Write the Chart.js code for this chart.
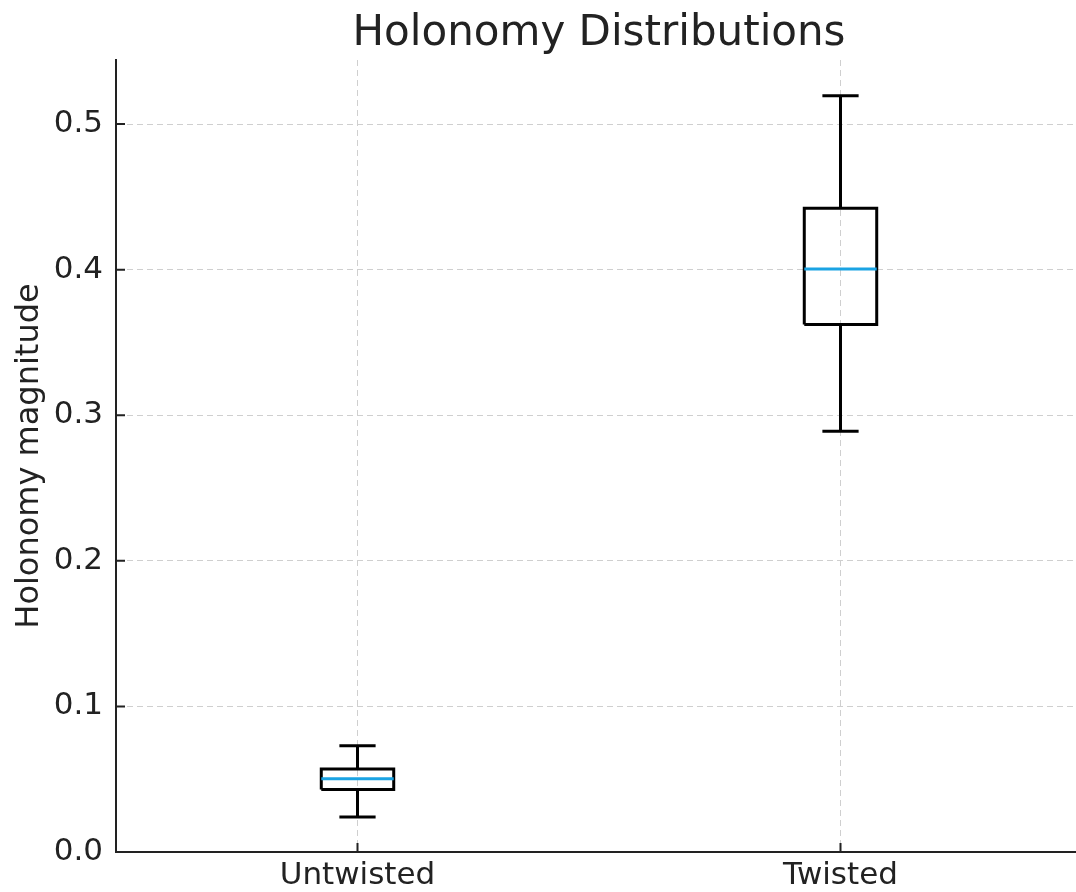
<!DOCTYPE html>
<html>
<head>
<meta charset="utf-8">
<script src="https://cdn.jsdelivr.net/npm/chart.js@4"></script>
<style>
    html, body { margin: 0; padding: 0; background: #fff; overflow: hidden; }
    #wrap { width: 1076px; height: 892px; overflow: hidden; }
</style>
</head>
<body>
<div id="wrap"><canvas id="holonomy" width="1082" height="892"></canvas></div>
<script>
const categories = ['Untwisted', 'Twisted'];
const positions = [1, 2];
const whiskerLow = [0.024, 0.289];
const quartile1 = [0.043, 0.3624];
const medians = [0.0503, 0.4004];
const quartile3 = [0.057, 0.4421];
const whiskerHigh = [0.073, 0.5194];
const yTicks = [0, 0.1, 0.2, 0.3, 0.4, 0.5];
const chartTitle = 'Holonomy Distributions';

const boxWidth = 0.15;
const font = 'DejaVu Sans';

function segment(points, color, order) {
    return {
        data: points,
        showLine: true,
        borderColor: color,
        borderWidth: 3,
        pointRadius: 0,
        fill: false,
        order,
    };
}

const datasets = [];
positions.forEach((x, i) => {
    const half = boxWidth / 2;
    const cap = boxWidth / 4;
    datasets.push(segment([{ x: x - half, y: medians[i] }, { x: x + half, y: medians[i] }], '#1aa3e3', 0));
    datasets.push(segment([
        { x: x - half, y: quartile1[i] },
        { x: x + half, y: quartile1[i] },
        { x: x + half, y: quartile3[i] },
        { x: x - half, y: quartile3[i] },
        { x: x - half, y: quartile1[i] },
    ], '#000', 1));
    datasets.push(segment([{ x, y: whiskerLow[i] }, { x, y: quartile1[i] }], '#000', 1));
    datasets.push(segment([{ x, y: quartile3[i] }, { x, y: whiskerHigh[i] }], '#000', 1));
    datasets.push(segment([{ x: x - cap, y: whiskerLow[i] }, { x: x + cap, y: whiskerLow[i] }], '#000', 1));
    datasets.push(segment([{ x: x - cap, y: whiskerHigh[i] }, { x: x + cap, y: whiskerHigh[i] }], '#000', 1));
});

// matplotlib style inward tick marks and a title centred over the axes
const axesDecor = {
    id: 'axesDecor',
    afterDatasetsDraw(chart) {
        const { ctx, chartArea, scales } = chart;
        ctx.save();
        ctx.strokeStyle = '#222';
        ctx.lineWidth = 2;
        ctx.beginPath();
        yTicks.forEach(v => {
            const y = scales.y.getPixelForValue(v);
            ctx.moveTo(chartArea.left, y);
            ctx.lineTo(chartArea.left + 9, y);
        });
        positions.forEach(v => {
            const x = scales.x.getPixelForValue(v);
            ctx.moveTo(x, chartArea.bottom);
            ctx.lineTo(x, chartArea.bottom - 9);
        });
        ctx.stroke();

        ctx.fillStyle = '#222';
        ctx.font = `42px "${font}"`;
        ctx.textAlign = 'center';
        ctx.textBaseline = 'alphabetic';
        ctx.fillText(chartTitle, (chartArea.left + chartArea.right) / 2, 45);
        ctx.restore();
    },
};

new Chart(document.getElementById('holonomy'), {
    type: 'scatter',
    data: { datasets },
    options: {
        responsive: false,
        animation: false,
        layout: { padding: { top: 60 } },
        plugins: {
            legend: { display: false },
            tooltip: { enabled: false },
            title: { display: false },
        },
        scales: {
            x: {
                type: 'linear',
                min: 0.5,
                max: 2.5,
                afterBuildTicks(scale) {
                    scale.ticks = positions.map(value => ({ value }));
                },
                afterFit(scale) {
                    scale.height = 40;
                },
                ticks: {
                    color: '#222',
                    padding: 5,
                    font: { family: font, size: 31 },
                    callback: value => categories[positions.indexOf(value)] ?? '',
                },
                grid: {
                    color: '#cfcfcf',
                    lineWidth: 1,
                    drawTicks: false,
                },
                border: { color: '#222', width: 2, dash: [6, 4] },
            },
            y: {
                min: 0,
                max: 0.544,
                afterBuildTicks(scale) {
                    scale.ticks = yTicks.map(value => ({ value }));
                },
                afterFit(scale) {
                    scale.width = 116;
                },
                ticks: {
                    color: '#222',
                    padding: 13,
                    font: { family: font, size: 31 },
                    callback: value => value.toFixed(1),
                },
                grid: {
                    color: '#cfcfcf',
                    lineWidth: 1,
                    drawTicks: false,
                },
                border: { color: '#222', width: 2, dash: [6, 4] },
                title: {
                    display: true,
                    text: 'Holonomy magnitude',
                    color: '#222',
                    padding: { top: 10, bottom: 0 },
                    font: { family: font, size: 32 },
                },
            },
        },
    },
    plugins: [axesDecor],
});
</script>
</body>
</html>
